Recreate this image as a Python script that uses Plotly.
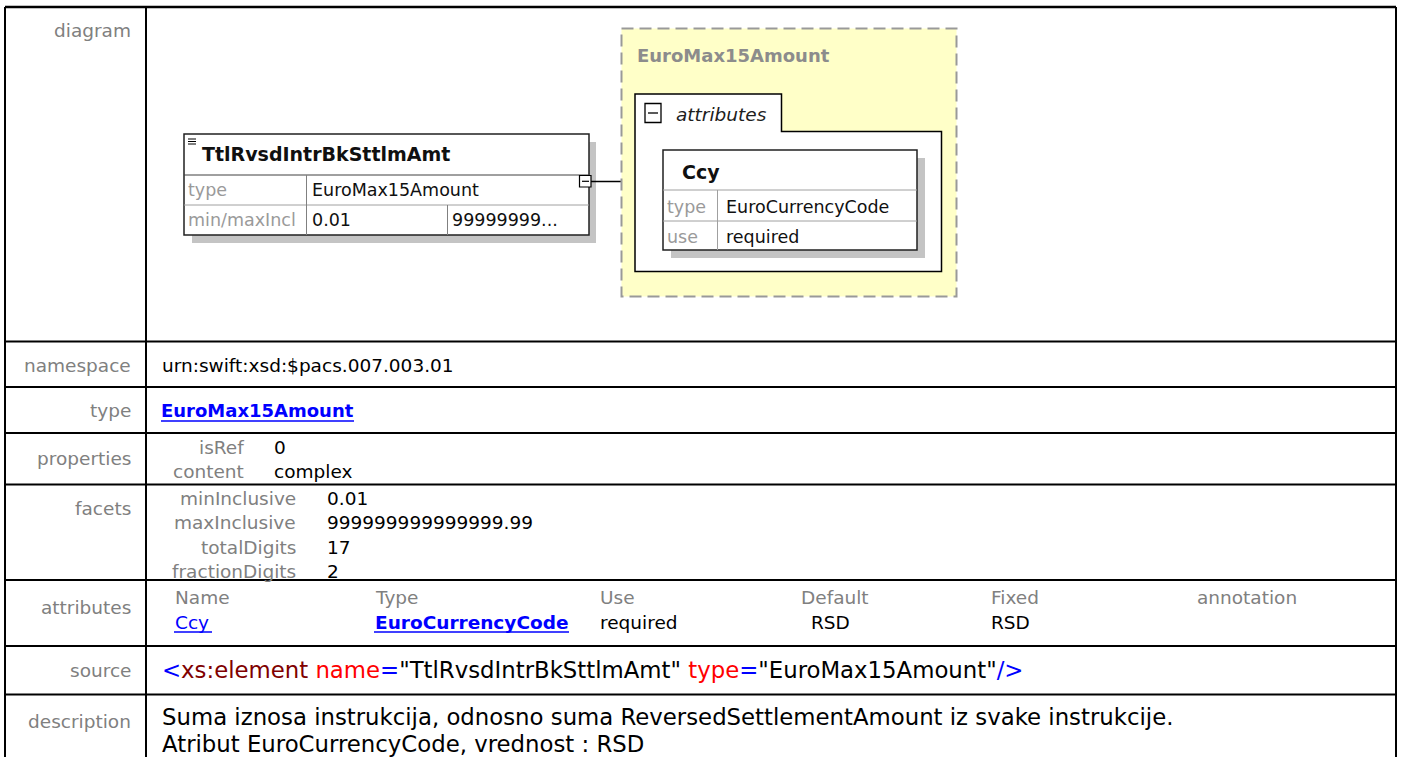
import plotly.graph_objects as go

W, H = 1401, 757

# ---------------- data (texts of the documentation page) ----------------
row_labels = ["diagram", "namespace", "type", "properties", "facets",
              "attributes", "source", "description"]
namespace_value = "urn:swift:xsd:$pacs.007.003.01"
type_value = "EuroMax15Amount"
property_names = ["isRef", "content"]
property_values = ["0", "complex"]
facet_names = ["minInclusive", "maxInclusive", "totalDigits", "fractionDigits"]
facet_values = ["0.01", "999999999999999.99", "17", "2"]
attr_headers = ["Name", "Type", "Use", "Default", "Fixed", "annotation"]
attr_values = ["Ccy", "EuroCurrencyCode", "required", "RSD", "RSD", ""]
source_parts = ["<", "xs:element", " name", "=", '"TtlRvsdIntrBkSttlmAmt"',
                " type", "=", '"EuroMax15Amount"', "/>"]
source_roles = ["tag", "element", "attr", "tag", "value", "attr", "tag", "value", "tag"]
description_lines = [
    "Suma iznosa instrukcija, odnosno suma ReversedSettlementAmount iz svake instrukcije.",
    "Atribut EuroCurrencyCode, vrednost : RSD",
]
element_name = "TtlRvsdIntrBkSttlmAmt"
element_row_labels = ["type", "min/maxIncl"]
element_row_values = [["EuroMax15Amount"], ["0.01", "99999999..."]]
complex_type_name = "EuroMax15Amount"
attr_group_label = "attributes"
attr_box_name = "Ccy"
attr_box_labels = ["type", "use"]
attr_box_values = ["EuroCurrencyCode", "required"]

# ---------------- styles ----------------
FONT = "DejaVu Sans"
GRAY = "#808080"
BLUE = "#0000ff"
role_colors = {"tag": "#0000ff", "element": "#800000", "attr": "#ff0000", "value": "#000000"}

fig = go.Figure()
fig.add_trace(go.Scatter(x=[0, W], y=[0, H], mode="markers",
                         marker=dict(opacity=0), hoverinfo="skip", showlegend=False))

shapes = []
annotations = []


def line(x0, y0, x1, y1, color="black", width=2, dash=None):
    d = dict(type="line", xref="x", yref="y", x0=x0, y0=y0, x1=x1, y1=y1,
             line=dict(color=color, width=width))
    if dash:
        d["line"]["dash"] = dash
    shapes.append(d)


def rect(x0, y0, x1, y1, fill=None, color="black", width=1.5, dash=None):
    d = dict(type="rect", xref="x", yref="y", x0=x0, y0=y0, x1=x1, y1=y1,
             line=dict(color=color, width=width), layer="above")
    if fill:
        d["fillcolor"] = fill
    if width == 0:
        d["line"] = dict(width=0)
    if dash:
        d["line"]["dash"] = dash
    shapes.append(d)


def text(x, y, s, size=18.5, color="black", anchor="left", bold=False,
         italic=False, family=FONT):
    annotations.append(dict(
        x=x, y=y, xref="x", yref="y", text=s, showarrow=False,
        xanchor=anchor, yanchor="middle", borderpad=0,
        font=dict(family=family, size=size, color=color,
                  weight="bold" if bold else "normal",
                  style="italic" if italic else "normal")))


# ---------------- table frame ----------------
TL, TR, TOP, BOT = 5, 1396, 7, 760
COL = 146
row_tops = [TOP, 341.5, 387, 433, 484.5, 580, 646, 694.5]
for y in row_tops:
    line(TL, y, TR, y, width=2.5 if y == TOP else 2)
line(TL, TOP, TL, BOT, width=2)
line(TR, TOP, TR, BOT, width=2)
line(COL, TOP, COL, BOT, width=2)

# row labels (right aligned, gray)
label_y = [30, 365, 410, 458, 508, 607, 670, 721]
for lab, y in zip(row_labels, label_y):
    text(132, y, lab, size=18.5, color=GRAY, anchor="right")

# namespace
text(161, 365, namespace_value)
# type (bold link)
text(160, 410, "<b>%s</b>" % type_value, size=18, color=BLUE)
line(161, 421, 354, 421, color=BLUE, width=1.5)

# properties
for i, (n, v) in enumerate(zip(property_names, property_values)):
    y = [447, 471][i]
    text(245, y, n, color=GRAY, anchor="right")
    text(273, y, v)

# facets
facet_y = [498, 522, 547, 571]
for n, v, y in zip(facet_names, facet_values, facet_y):
    text(297, y, n, color=GRAY, anchor="right")
    text(326, y, v)

# attributes
attr_x = [174, 374, 599, 800, 990, 1196]
for hdr, x in zip(attr_headers, attr_x):
    text(x, 597, hdr, color=GRAY)
val_x = [174, 374, 599, 810, 990, 1196]
for i, (v, x) in enumerate(zip(attr_values, val_x)):
    if not v:
        continue
    if i == 0:
        text(x, 622, v, color=BLUE)
        line(174, 632, 212, 632, color=BLUE, width=1.5)
    elif i == 1:
        text(x, 622, "<b>%s</b>" % v, size=18.5, color=BLUE)
        line(374, 632, 569, 632, color=BLUE, width=1.5)
    else:
        text(x, 622, v)

# source
src = "".join('<span style="color:%s">%s</span>' % (
    role_colors[r], p.replace("<", "&lt;").replace(">", "&gt;"))
    for p, r in zip(source_parts, source_roles))
text(161, 670, src, size=22.8)

# description
for s, y in zip(description_lines, [716.5, 743.5]):
    text(161, y, s, size=22.8)

# ---------------- diagram ----------------
# element box
rect(192, 142, 596, 243, fill="#c4c4c4", width=0)
rect(184, 134, 589, 235, fill="white", color="#202020", width=1.5)
line(184, 175, 589, 175, color="#404040", width=1)
line(184, 205, 589, 205, color="#a0a0a0", width=1)
line(306.5, 175, 306.5, 235, color="#808080", width=1)
line(447.5, 205, 447.5, 235, color="#808080", width=1)
for yy in [139, 141.5, 144]:
    line(188, yy, 196, yy, color="black", width=1)
text(201, 154, "<b>%s</b>" % element_name, size=19, color="#101010")
ex = [311, 451]
for i, (lab, vals) in enumerate(zip(element_row_labels, element_row_values)):
    y = [190, 220][i]
    text(187, y, lab, size=17.5, color="#9a9a9a")
    for v, x in zip(vals, ex):
        text(x, y, v, size=17.5, color="#101010")

# connector
line(591, 181.5, 635, 181.5, color="black", width=1.5)
rect(579.5, 175.5, 591, 187, fill="white", color="black", width=1.2)
line(582, 181.3, 589, 181.3, color="black", width=1.2)

# complex type (yellow dashed)
rect(621.5, 28.5, 956.5, 296.5, fill="#ffffc8", color="#999999", width=2,
     dash="12px,6px")
text(636, 55, "<b>%s</b>" % complex_type_name, size=18, color="#8c8c8c")

# attributes group with tab
shapes.append(dict(type="path", xref="x", yref="y",
                   path="M 635 131.5 L 635 94 L 781.5 94 L 781.5 131.5 L 941.5 131.5 "
                        "L 941.5 271.5 L 635 271.5 Z",
                   fillcolor="white", line=dict(color="black", width=1.5), layer="above"))
rect(645, 103.5, 661, 122.5, fill="white", color="black", width=1.3)
line(648, 113, 658, 113, color="black", width=1.3)
text(675, 114.5, attr_group_label, size=18.5, italic=True, color="#202020")

# Ccy attribute box
rect(671, 158, 925, 258, fill="#c4c4c4", width=0)
rect(663, 150, 917, 250, fill="white", color="#202020", width=1.5)
line(663, 190, 917, 190, color="#a0a0a0", width=1)
line(663, 221, 917, 221, color="#a0a0a0", width=1)
line(717.5, 190, 717.5, 250, color="#a0a0a0", width=1)
text(681, 172, "<b>%s</b>" % attr_box_name, size=19, color="#101010")
for lab, v, y in zip(attr_box_labels, attr_box_values, [206.5, 236.5]):
    text(666, y, lab, size=17.5, color="#9a9a9a")
    text(725, y, v, size=17.5, color="#101010")

fig.update_layout(
    width=W, height=H,
    margin=dict(l=0, r=0, t=0, b=0),
    paper_bgcolor="white", plot_bgcolor="white",
    xaxis=dict(range=[0, W], visible=False, fixedrange=True),
    yaxis=dict(range=[H, 0], visible=False, fixedrange=True),
    showlegend=False,
    shapes=shapes,
    annotations=annotations,
)

fig.write_html("out.html", post_script="document.body.style.margin='0';",
               config={"displayModeBar": False})
